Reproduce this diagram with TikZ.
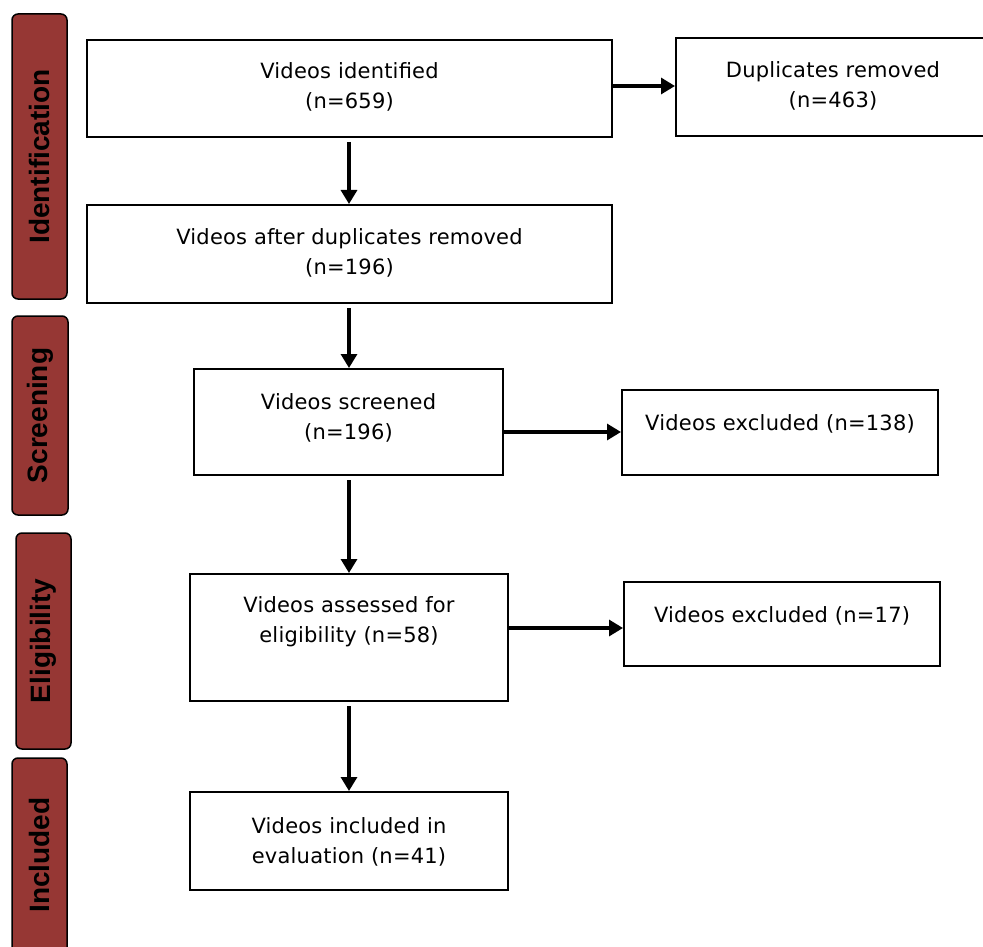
\documentclass[tikz,border=0pt]{standalone}
\usepackage{fontspec}
\setmainfont{DejaVu Sans}[LetterSpace=1]
\newfontfamily\labfont{Liberation Sans}
\usetikzlibrary{arrows.meta}
\definecolor{phase}{RGB}{150,55,52}
\tikzset{
  box/.style={draw=black, line width=2pt, fill=white, inner sep=0pt},
  txt/.style={font=\fontsize{21}{30}\selectfont, align=center, inner sep=0pt},
  phasebox/.style={draw=black, line width=1.5pt, fill=phase, rounded corners=6pt, inner sep=0pt},
  phasetxt/.style={font=\labfont\bfseries\fontsize{28}{30}\selectfont, rotate=90, inner sep=0pt},
  arr/.style={line width=3.2pt, -{Triangle[width=16pt,length=14pt]}},
}
\begin{document}
\begin{tikzpicture}[x=1pt,y=-1pt]
\useasboundingbox (0,0) rectangle (983,947);
\clip (0,0) rectangle (983,947);
% phase labels
\node[phasebox, minimum width=55pt, minimum height=285pt] (pid) at (39.5,156.5) {};
\node[phasetxt] (tid) at (pid.center) {Identification};
\node[phasebox, minimum width=56pt, minimum height=199pt] (psc) at (40,415.5) {};
\node[phasetxt] (tsc) at (psc.center) {Screening};
\node[phasebox, minimum width=55pt, minimum height=216pt] (pel) at (43.5,641) {};
\node[phasetxt] (tel) at (pel.center) {Eligibility};
\node[phasebox, minimum width=55pt, minimum height=196pt] (pin) at (39.5,856) {};
\node[phasetxt] (tin) at (39.5,855) {Included};
% boxes
\node[box, minimum width=525pt, minimum height=97pt] (b1) at (349.5,88.5) {};
\node[txt] (t1) at (349.5,87) {Videos identified\\(n=659)};
\node[box, minimum width=320pt, minimum height=98pt] (b2) at (836,87) {};
\node[txt] (t2) at (833,86) {Duplicates removed\\(n=463)};
\node[box, minimum width=525pt, minimum height=98pt] (b3) at (349.5,254) {};
\node[txt] (t3) at (349.5,253) {Videos after duplicates removed\\(n=196)};
\node[box, minimum width=309pt, minimum height=106pt] (b4) at (348.5,422) {};
\node[txt] (t4) at (348.5,418) {Videos screened\\(n=196)};
\node[box, minimum width=316pt, minimum height=85pt] (b5) at (780,432.5) {};
\node[txt] (t5) at (780,424) {Videos excluded (n=138)};
\node[box, minimum width=318pt, minimum height=127pt] (b6) at (349,637.5) {};
\node[txt] (t6) at (349,622) {Videos assessed for\\eligibility (n=58)};
\node[box, minimum width=316pt, minimum height=84pt] (b7) at (782,624) {};
\node[txt] (t7) at (782,616) {Videos excluded (n=17)};
\node[box, minimum width=318pt, minimum height=98pt] (b8) at (349,841) {};
\node[txt] (t8) at (349,842) {Videos included in\\evaluation (n=41)};
% connectors
\draw[arr] (b1.east |- 0,86) -- (b2.west |- 0,86);
\draw[arr] (349,142) -- (b3.north -| 349,0);
\draw[arr] (349,308) -- (b4.north -| 349,0);
\draw[arr] (b4.east |- 0,432) -- (b5.west |- 0,432);
\draw[arr] (349,480) -- (b6.north -| 349,0);
\draw[arr] (b6.east |- 0,628) -- (b7.west |- 0,628);
\draw[arr] (349,706) -- (b8.north -| 349,0);
\end{tikzpicture}
\end{document}
